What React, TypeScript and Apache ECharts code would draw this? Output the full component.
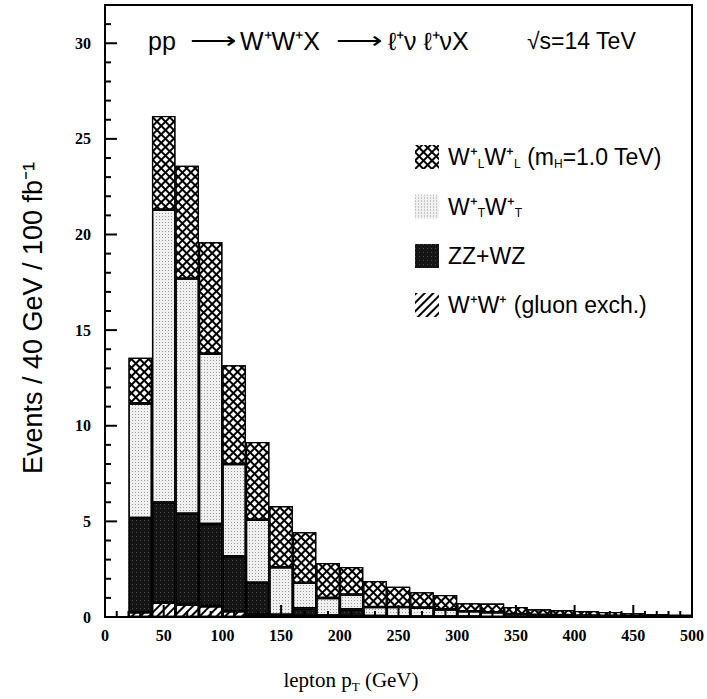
import React, { useEffect, useRef } from "react";
import * as echarts from "echarts";

// bin left edges (GeV), 20 GeV wide
const binEdges = [0, 20, 40, 60, 80, 100, 120, 140, 160, 180, 200, 220, 240, 260, 280, 300, 320, 340, 360, 380, 400, 420, 440, 460, 480];
// individual (stacked) contributions, events / bin
const gluonExch = [0, 0.25, 0.75, 0.66, 0.57, 0.3, 0.12, 0.05, 0.05, 0.03, 0.03, 0, 0, 0, 0, 0, 0, 0, 0, 0, 0, 0, 0, 0, 0];
const zzwz = [0, 4.93, 5.24, 4.74, 4.29, 2.88, 1.67, 0.07, 0.4, 0.05, 0.37, 0.05, 0.03, 0.03, 0.03, 0.02, 0, 0, 0, 0, 0, 0, 0, 0, 0];
const wtwt = [0, 5.99, 15.31, 12.3, 8.91, 4.82, 3.3, 2.48, 1.34, 0.92, 0.78, 0.47, 0.49, 0.46, 0.37, 0.28, 0.25, 0.15, 0.12, 0.1, 0.08, 0.06, 0.05, 0.04, 0.03];
const wlwl = [0, 2.39, 4.9, 5.9, 5.83, 5.16, 4.06, 3.2, 2.64, 1.83, 1.44, 1.36, 1.06, 0.81, 0.75, 0.42, 0.45, 0.37, 0.28, 0.26, 0.23, 0.2, 0.15, 0.11, 0.09];

const seriesNames = ["WLWL", "WTWT", "ZZWZ", "GLUON"];
// tick positions
const xMajorTicks = [0, 50, 100, 150, 200, 250, 300, 350, 400, 450, 500];
const xMinorTicks = [10, 20, 30, 40, 60, 70, 80, 90, 110, 120, 130, 140, 160, 170, 180, 190, 210, 220, 230, 240, 260, 270, 280, 290, 310, 320, 330, 340, 360, 370, 380, 390, 410, 420, 430, 440, 460, 470, 480, 490];
const yMajorTicks = [0, 5, 10, 15, 20, 25, 30];
const yMinorTicks = [1, 2, 3, 4, 6, 7, 8, 9, 11, 12, 13, 14, 16, 17, 18, 19, 21, 22, 23, 24, 26, 27, 28, 29, 31];

export default function App() {
  const ref = useRef<HTMLDivElement>(null);
  useEffect(() => {
    if (!ref.current) return;
    const chart = echarts.init(ref.current, undefined, { renderer: "svg" });
    const categories = binEdges.map((e) => `${e}-${e + 20}`);
    const border = { borderColor: "#000", borderWidth: 1.3 };
    const crossDecal = {
      symbol: "rect",
      symbolSize: 1,
      color: "#fff",
      dashArrayX: [[3.7, 1.5]],
      dashArrayY: [3.7, 1.5],
      rotation: Math.PI / 4,
    };
    const stippleDecal = {
      symbol: "rect",
      symbolSize: 1,
      color: "#999",
      dashArrayX: [[1, 2]],
      dashArrayY: [1, 2],
    };
    const darkDecal = {
      symbol: "rect",
      symbolSize: 1,
      color: "#4a4a4a",
      dashArrayX: [[1, 3]],
      dashArrayY: [1, 3],
    };
    const hatchDecal = {
      symbol: "rect",
      symbolSize: 1,
      color: "#000",
      dashArrayX: [[1, 0]],
      dashArrayY: [1.6, 4],
      rotation: -Math.PI / 4,
    };
    const sansFont = "Liberation Sans";
    const serifFont = "Liberation Serif";
    const tickLabel = { fontFamily: serifFont, fontWeight: "bold", fontSize: 16, color: "#000" };
    const richLegend = {
      a: { fontFamily: sansFont, fontSize: 23, color: "#000" },
      s: { fontFamily: sansFont, fontSize: 12, color: "#000", padding: [13, 0, 0, 0] },
    };
    const legendText: Record<string, string> = {
      WLWL: "{a|W⁺}{s|L}{a|W⁺}{s|L}{a| (m}{s|H}{a|=1.0 TeV)}",
      WTWT: "{a|W⁺}{s|T}{a|W⁺}{s|T}",
      ZZWZ: "{a|ZZ+WZ}",
      GLUON: "{a|W⁺W⁺ (gluon exch.)}",
    };
    const titleFont = `25px "${sansFont}"`;
    const axisCommon = {
      axisLine: { show: true, lineStyle: { color: "#000", width: 2 } },
      axisTick: { show: false },
      minorTick: { show: false },
      splitLine: { show: false },
    };
    const xTickData = [...xMajorTicks.map((v) => [v, 0, 1]), ...xMinorTicks.map((v) => [v, 0, 0])];
    const yTickData = [...yMajorTicks.map((v) => [0, v, 1]), ...yMinorTicks.map((v) => [0, v, 0])];
    chart.setOption({
      animation: false,
      grid: { left: 105, right: 12, top: 5, bottom: 82, show: true, borderColor: "#000", borderWidth: 2, backgroundColor: "transparent" },
      legend: {
        data: seriesNames,
        orient: "vertical",
        left: 410,
        top: 140,
        itemWidth: 24,
        itemHeight: 24,
        itemGap: 25,
        icon: "rect",
        itemStyle: { borderWidth: 0 },
        formatter: (n: string) => legendText[n],
        textStyle: { rich: richLegend, padding: [0, 0, 0, 4] },
      },
      xAxis: [
        { type: "category", data: categories, show: false, boundaryGap: true, gridIndex: 0 },
        {
          type: "value", min: 0, max: 500, interval: 50, position: "bottom", gridIndex: 0,
          ...axisCommon,
          axisLabel: { ...tickLabel, margin: 10 },
        },
      ],
      yAxis: [
        {
          type: "value", min: 0, max: 32, interval: 5,
          ...axisCommon,
          axisLabel: { ...tickLabel, margin: 14, formatter: (v: number) => (yMajorTicks.includes(v) ? String(v) : "") },
        },
      ],
      series: [
        { name: "GLUON", type: "bar", stack: "all", xAxisIndex: 0, barWidth: "100%", data: gluonExch, itemStyle: { color: "#fff", ...border, decal: hatchDecal } },
        { name: "ZZWZ", type: "bar", stack: "all", xAxisIndex: 0, barWidth: "100%", data: zzwz, itemStyle: { color: "#151515", ...border, decal: darkDecal } },
        { name: "WTWT", type: "bar", stack: "all", xAxisIndex: 0, barWidth: "100%", data: wtwt, itemStyle: { color: "#f0f0f0", ...border, decal: stippleDecal } },
        { name: "WLWL", type: "bar", stack: "all", xAxisIndex: 0, barWidth: "100%", data: wlwl, itemStyle: { color: "#000", ...border, decal: crossDecal } },
        {
          name: "xticks", type: "custom", xAxisIndex: 1, yAxisIndex: 0, data: xTickData, z: 20, silent: true, clip: false,
          renderItem: (_p: any, api: any) => {
            const pt = api.coord([api.value(0), 0]);
            const len = api.value(2) ? 12 : 6;
            return { type: "line", shape: { x1: pt[0], y1: pt[1], x2: pt[0], y2: pt[1] - len }, style: { stroke: "#000", lineWidth: 2 } };
          },
        },
        {
          name: "yticks", type: "custom", xAxisIndex: 1, yAxisIndex: 0, data: yTickData, z: 20, silent: true, clip: false,
          renderItem: (_p: any, api: any) => {
            const pt = api.coord([0, api.value(1)]);
            const len = api.value(2) ? 12 : 6;
            return { type: "line", shape: { x1: pt[0], y1: pt[1], x2: pt[0] + len, y2: pt[1] }, style: { stroke: "#000", lineWidth: 2 } };
          },
        },
      ],
      graphic: [
        { type: "text", left: 148, top: 28, style: { text: "pp", font: titleFont, fill: "#000" } },
        { type: "text", x: 190, y: 28, scaleX: 1.3, style: { text: "⟶", font: titleFont, fill: "#000" } },
        { type: "text", left: 240, top: 28, style: { text: "W⁺W⁺X", font: titleFont, fill: "#000" } },
        { type: "text", x: 336, y: 28, scaleX: 1.3, style: { text: "⟶", font: titleFont, fill: "#000" } },
        { type: "text", left: 388, top: 28, style: { text: "ℓ⁺ν ℓ⁺νX", font: titleFont, fill: "#000" } },
        { type: "text", left: 527, top: 29, style: { text: "√s=14 TeV", font: `23px "${sansFont}"`, fill: "#000" } },
        {
          type: "text", x: 33, y: 318, rotation: Math.PI / 2,
          style: { text: "Events / 40 GeV / 100 fb⁻¹", font: `27px "${sansFont}"`, fill: "#000", align: "center", verticalAlign: "middle" },
        },
        {
          type: "text", x: 351, y: 680,
          style: {
            text: "{a|lepton p}{s|T}{a| (GeV)}",
            align: "center", verticalAlign: "middle",
            rich: {
              a: { fontFamily: serifFont, fontSize: 21, fill: "#000" },
              s: { fontFamily: serifFont, fontSize: 13, fill: "#000", padding: [12, 0, 0, 0] },
            },
          },
        },
      ],
    });
    return () => chart.dispose();
  }, []);
  return <div ref={ref} style={{ position: "fixed", left: 0, top: 0, width: 707, height: 699, background: "#fff" }} />;
}
